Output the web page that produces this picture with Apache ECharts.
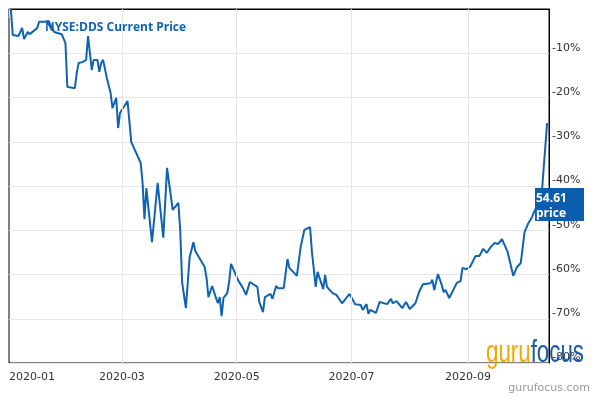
<!DOCTYPE html>
<html>
<head>
<meta charset="utf-8">
<script src="https://cdn.jsdelivr.net/npm/echarts@6/dist/echarts.min.js"></script>
<style>
html,body{margin:0;padding:0;background:#fff;}
#chart{width:600px;height:400px;}
</style>
</head>
<body>
<div id="chart"></div>
<script>
const dates = ["2020-01-02","2020-01-03","2020-01-06","2020-01-08","2020-01-09","2020-01-11","2020-01-12","2020-01-14","2020-01-15","2020-01-16","2020-01-17","2020-01-20","2020-01-22","2020-01-24","2020-01-25","2020-01-29","2020-01-31",
"2020-02-01","2020-02-02","2020-02-05","2020-02-06","2020-02-07","2020-02-09","2020-02-11","2020-02-12","2020-02-14","2020-02-15","2020-02-17","2020-02-18","2020-02-19","2020-02-20","2020-02-22","2020-02-24","2020-02-25","2020-02-27","2020-02-28","2020-02-29",
"2020-03-04","2020-03-06","2020-03-07","2020-03-11","2020-03-12","2020-03-13","2020-03-14","2020-03-17","2020-03-20","2020-03-23","2020-03-25","2020-03-28","2020-03-31",
"2020-04-01","2020-04-02","2020-04-04","2020-04-06","2020-04-08","2020-04-09","2020-04-10","2020-04-14","2020-04-15","2020-04-16","2020-04-18","2020-04-20","2020-04-21","2020-04-22","2020-04-23","2020-04-24","2020-04-26","2020-04-27","2020-04-28",
"2020-05-02","2020-05-04","2020-05-06","2020-05-07","2020-05-08","2020-05-12","2020-05-13","2020-05-15","2020-05-16","2020-05-19","2020-05-20","2020-05-22","2020-05-23","2020-05-26","2020-05-28","2020-05-29",
"2020-06-02","2020-06-04","2020-06-05","2020-06-06","2020-06-09","2020-06-10","2020-06-12","2020-06-13","2020-06-16","2020-06-17","2020-06-18","2020-06-19","2020-06-21","2020-06-23","2020-06-26","2020-06-30",
"2020-07-03","2020-07-06","2020-07-07","2020-07-09","2020-07-10","2020-07-11","2020-07-14","2020-07-16","2020-07-17","2020-07-20","2020-07-22","2020-07-23","2020-07-25","2020-07-28","2020-07-30",
"2020-08-01","2020-08-04","2020-08-06","2020-08-07","2020-08-08","2020-08-12","2020-08-13","2020-08-14","2020-08-15","2020-08-16","2020-08-18","2020-08-19","2020-08-20","2020-08-22","2020-08-26","2020-08-28","2020-08-29","2020-08-31",
"2020-09-02","2020-09-05","2020-09-07","2020-09-09","2020-09-11","2020-09-13","2020-09-15","2020-09-17","2020-09-19","2020-09-22","2020-09-25","2020-09-27","2020-09-29",
"2020-10-01","2020-10-03","2020-10-05","2020-10-06","2020-10-10","2020-10-13"];
const changePct = [0,-5.9,-6.1,-4.3,-6.8,-5.2,-5.7,-5.0,-5.4,-4.3,-2.9,-2.9,-2.7,-4.3,-5.2,-5.7,-7.7,
-17.6,-17.6,-17.9,-14.5,-12.2,-12.0,-11.5,-6.1,-13.8,-11.5,-11.5,-14.2,-12.2,-11.5,-15.6,-19.0,-22.4,-20.1,-26.9,-23.5,
-20.8,-30.1,-30.3,-34.8,-39.3,-47.5,-40.5,-52.7,-39.3,-51.7,-35.9,-45.4,-43.8,
-50.0,-61.7,-67.6,-56.1,-52.7,-54.7,-54.7,-58.3,-60.8,-65.1,-62.6,-65.3,-66.5,-65.1,-69.4,-65.3,-64.2,-61.7,-57.6,
-61.5,-62.8,-64.6,-64.9,-61.7,-62.8,-66.2,-68.5,-65.1,-64.4,-65.5,-62.6,-63.1,-63.1,-56.5,-58.5,
-60.3,-53.8,-54.2,-49.9,-49.3,-54.9,-62.8,-59.4,-63.3,-60.1,-62.8,-62.6,-64.2,-64.6,-66.5,-64.4,
-66.7,-66.9,-68.0,-66.7,-68.9,-68.0,-68.7,-66.2,-66.0,-66.7,-65.5,-66.5,-66.0,-67.6,-66.2,
-67.8,-66.5,-63.9,-64.2,-62.2,-62.0,-61.2,-63.5,-63.1,-59.9,-62.4,-64.0,-63.5,-65.3,-61.9,-61.5,-58.5,-58.8,
-58.3,-55.8,-55.8,-54.2,-55.1,-53.8,-52.9,-53.1,-52.0,-54.9,-60.3,-58.3,-57.4,
-50.4,-48.4,-47.0,-45.9,-42.5,-25.8];
const xTickDates = ["2020-01-01","2020-03-01","2020-05-01","2020-07-01","2020-09-01"];
const titleText = "NYSE:DDS Current Price";
const priceLabel = "54.61";
const priceSub = "price";

const BLUE = "#0f63b1";
const toTs = s => echarts.number.parseDate(s).getTime();
const xTickTs = xTickDates.map(toTs);

const chart = echarts.init(document.getElementById('chart'), null, {renderer:'canvas'});
chart.setOption({
  animation:false,
  grid:{left:9, top:9, right:51, bottom:37, show:true, borderColor:'#000', borderWidth:1},
  xAxis:{
    type:'time',
    min:toTs('2020-01-01'), max:toTs('2020-10-14'),
    axisLine:{show:true, lineStyle:{color:'#000', width:1}},
    axisTick:{show:true, customValues:xTickTs, length:9, lineStyle:{color:'#ccd6eb'}},
    axisLabel:{customValues:xTickTs, formatter:'{yyyy}-{MM}', color:'#333', fontFamily:'DejaVu Sans', fontSize:11, margin:9, alignMinLabel:'left', showMinLabel:true},
    splitLine:{show:false}
  },
  yAxis:{
    type:'value', position:'right', min:-80, max:0, interval:10,
    axisLine:{show:true, lineStyle:{color:'#000', width:1}},
    axisTick:{show:false},
    axisLabel:{color:'#333', fontFamily:'DejaVu Sans', fontSize:11, margin:3, verticalAlign:'bottom',
      formatter: v => v === 0 ? '' : (v + '%')},
    splitLine:{show:true, lineStyle:{color:'#e6e6e6', width:1}}
  },
  series:[{
    type:'line', data:[], z:1, silent:true,
    markLine:{silent:true, symbol:'none', label:{show:false}, animation:false,
      lineStyle:{color:'#e6e6e6', width:1, type:'solid'},
      data: xTickDates.slice(1).map(d => ({xAxis:toTs(d)}))}
  },{
    type:'line', showSymbol:false, symbol:'none',
    lineStyle:{color:BLUE, width:2},
    data: dates.map((d,i)=>[d, changePct[i]]),
    z:3
  }],
  graphic:[
    {type:'text', left:45, top:22, z:10, style:{text:titleText, fill:BLUE, font:'bold 12px "Open Sans"'}},
    {type:'rect', left:535, top:188, z:10, shape:{width:49, height:33}, style:{fill:'#0b5ead'}},
    {type:'text', left:536, top:191, z:11, style:{text:priceLabel + '\n' + priceSub, fill:'#fff', font:'bold 12px "Open Sans"', lineHeight:15}},
    {type:'text', left:486, top:338, z:12, scaleX:0.72, style:{
      rich:{a:{fill:'#f6a800', fontSize:31, fontFamily:'Liberation Sans'}, b:{fill:'#1d5aa6', fontSize:31, fontFamily:'Liberation Sans'}},
      text:'{a|guru}{b|focus}'}},
    {type:'text', right:10, top:383, z:12, style:{text:'gurufocus.com', fill:'#999', font:'11px "DejaVu Sans"'}}
  ]
});
</script>
</body>
</html>
